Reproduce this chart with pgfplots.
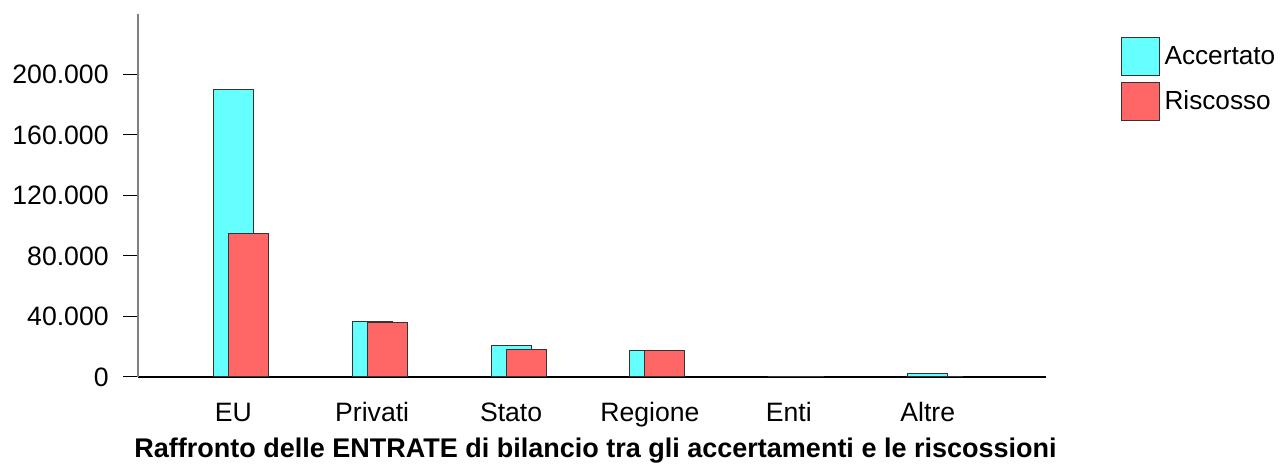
\documentclass[border=0pt]{standalone}
\usepackage{pgfplots}
\pgfplotsset{compat=1.18}
\usepackage{fontspec}
\setmainfont{Liberation Sans}
\definecolor{acc}{HTML}{66FFFF}
\definecolor{ris}{HTML}{FF6666}
\definecolor{edge}{HTML}{333333}
\begin{document}
\begin{tikzpicture}
\path[use as bounding box] (0,0) rectangle (640.5pt,232.5pt);
\begin{axis}[
  at={(69pt,44pt)}, anchor=south west,
  scale only axis, width=453.85pt, height=181.5pt,
  xmin=-0.686, xmax=5.849, ymin=0, ymax=240000,
  axis x line*=bottom, axis y line*=left,
  x axis line style={black, line width=0.6pt},
  y axis line style={gray, line width=0.6pt},
  xtick={0,1,2,3,4,5},
  xticklabels={EU,Privati,Stato,Regione,Enti,Altre},
  xtick style={draw=none},
  ytick={0,40000,80000,120000,160000,200000},
  ytick style={black, line width=0.5pt},
  tick align=outside, major tick length=7.5pt,
  scaled y ticks=false,
  /pgf/number format/.cd, fixed, 1000 sep={.}, assume math mode=true,
  /pgfplots/.cd,
  tick label style={font=\fontsize{13.3}{15}\selectfont},
  yticklabel style={inner sep=0pt, xshift=-7pt},
  xticklabel style={inner sep=0pt, anchor=north, yshift=-5pt, text height=9.5pt},
  ybar, bar width=20pt,
  legend style={at={(1.082,0.9375)}, anchor=north west, draw=none, inner sep=0pt,
    font=\fontsize{13.1}{15}\selectfont, row sep=3pt,
    /tikz/every odd column/.append style={column sep=0.5pt}},
  legend cell align=left,
  legend image code/.code={\draw[#1] (0pt,-9.5pt) rectangle (19pt,9.5pt);},
]
\addplot[bar shift=0pt, fill=acc, draw=edge, line width=0.5pt] coordinates {
  (0,190000) (1,36600) (2,21000) (3,17400) (4,400) (5,2000)};
\addplot[bar shift=7.5pt, fill=ris, draw=edge, line width=0.5pt] coordinates {
  (0,95000) (1,36200) (2,18500) (3,17200) (4,300) (5,100)};
\legend{Accertato,Riscosso}
\end{axis}
\node[font=\bfseries\fontsize{13.5}{15}\selectfont] at (297.75pt,7pt)
  {Raffronto delle ENTRATE di bilancio tra gli accertamenti e le riscossioni};
\end{tikzpicture}
\end{document}
